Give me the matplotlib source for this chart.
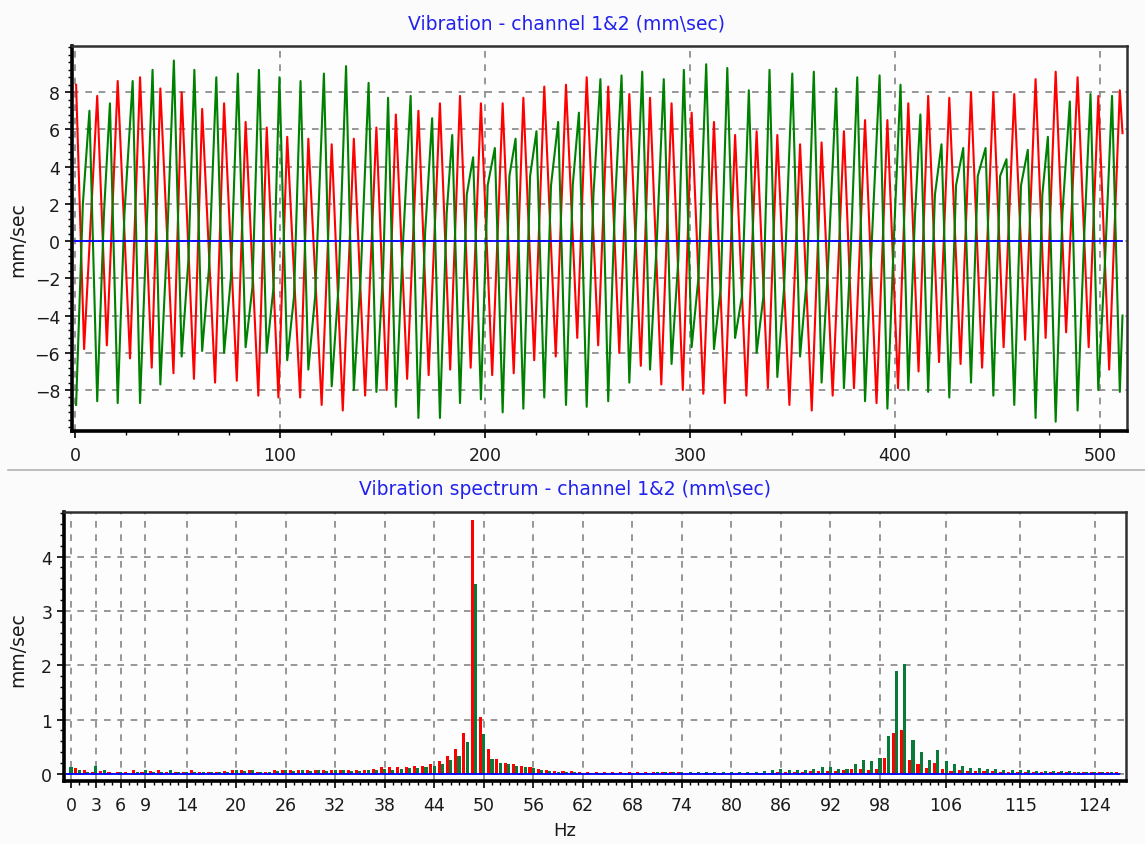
import numpy as np
import matplotlib
matplotlib.use("Agg")
import matplotlib.pyplot as plt
from matplotlib.ticker import MultipleLocator, FixedLocator
from matplotlib.lines import Line2D

# channel 1 (red) turning points: sample index, mm/sec
red_peak_x = [0.5, 10.8, 20.8, 31.7, 41.6, 52, 62, 72.7, 83.2, 93.5,
              103.5, 113.8, 125.2, 136, 147, 156.5, 167.5, 178, 187.8, 198,
              208.6, 218.7, 228.9, 239.5, 249.6, 260.1, 270.4, 280.5, 291, 300.8,
              311.7, 322, 332.5, 342.6, 353.7, 364.2, 375.1, 385.4, 396.3, 406.5,
              416.2, 426.5, 437.1, 448, 458.2, 468.6, 478.4, 489.1, 499.2, 509.7]
red_peak_y = [8.4, 7.8, 8.6, 8.8, 8.2, 8.0, 7.1, 7.4, 6.4, 6.1,
              5.6, 5.5, 5.2, 5.5, 6.1, 6.8, 7.0, 7.4, 7.8, 7.4,
              7.4, 7.7, 8.3, 8.4, 8.8, 8.3, 7.9, 7.7, 7.4, 6.9,
              6.4, 5.7, 5.9, 5.7, 5.2, 5.3, 5.9, 6.5, 6.5, 7.4,
              7.8, 7.7, 8.0, 8.0, 7.9, 8.7, 9.1, 8.8, 7.8, 8.1]
red_trough_x = [4.4, 15.5, 26.8, 37.4, 48, 58, 68.3, 78.9, 89.4, 99.2,
                109.8, 120.3, 130.6, 141.5, 152, 162, 172.5, 183, 193, 203.5,
                214, 224, 234.5, 245, 255.2, 265.5, 276, 286, 296.5, 306.5,
                317, 327.5, 338, 348.5, 359.4, 369.6, 380, 391, 401.5, 411.5,
                421.5, 432, 442.5, 453, 463.5, 473.5, 483.5, 494.5, 504.5]
red_trough_y = [-5.8, -5.6, -6.3, -6.8, -7.1, -7.4, -7.6, -7.5, -8.3, -8.4,
                -8.4, -8.8, -9.1, -8.3, -8.0, -7.4, -7.2, -6.9, -6.8, -7.2,
                -7.1, -6.4, -6.2, -5.2, -5.6, -6.0, -6.7, -7.7, -8.0, -8.2,
                -8.7, -8.3, -7.9, -8.8, -9.1, -8.3, -7.9, -8.7, -7.9, -7.0,
                -6.5, -6.6, -6.8, -5.7, -5.3, -5.2, -4.9, -5.7, -6.9]
red_tail_x = [511]
red_tail_y = [5.8]

# channel 2 (green) turning points
green_trough_x = [0.5, 10.8, 20.8, 31.7, 41.6, 52, 62, 72.7, 83.2, 93.5,
                  103.5, 113.8, 125.2, 136, 147, 156.5, 167.5, 178, 187.8, 198,
                  208.6, 218.7, 228.9, 239.5, 249.6, 260.1, 270.4, 280.5, 291, 300.8,
                  311.7, 322, 332.5, 342.6, 353.7, 364.2, 375.1, 385.4, 396.3, 406.5,
                  416.2, 426.5, 437.1, 448, 458.2, 468.6, 478.4, 489.1, 499.2, 509.7]
green_trough_y = [-8.8, -8.6, -8.7, -8.7, -7.7, -6.2, -5.9, -6.0, -5.7, -6.0,
                  -6.4, -6.9, -7.8, -8.0, -8.1, -8.9, -9.5, -9.5, -8.7, -8.5,
                  -9.2, -9.0, -8.4, -8.8, -8.9, -8.6, -7.6, -6.9, -6.6, -5.7,
                  -5.8, -5.2, -6.0, -7.3, -6.2, -7.6, -7.9, -8.6, -9.0, -8.0,
                  -8.1, -8.4, -7.6, -8.3, -8.8, -9.5, -9.7, -9.1, -8.0, -8.1]
green_mid_x = [3.8, 14.1, 24.1, 35.0, 44.9, 55.3, 65.3, 76.0, 86.5, 96.8,
               106.8, 117.1, 128.5, 139.3, 150.3, 159.8, 170.8, 181.3, 191.1, 201.3,
               211.9, 222.0, 232.2, 242.8, 252.9, 263.4, 273.7, 283.8, 294.3, 304.1,
               315.0, 325.3, 335.8, 345.9, 357.0, 367.5, 378.4, 388.7, 399.6, 409.8,
               419.5, 429.8, 440.4, 451.3, 461.5, 471.9, 481.7, 492.4, 502.5]
green_mid_y = [2.0, 1.5, 1.5, 1.0, 0.0, -1.0, -1.5, -2.0, -2.5, -2.5,
               -3.0, -3.0, -2.5, -2.0, -1.5, -0.5, 0.5, 1.5, 2.5, 3.0,
               3.5, 3.5, 3.0, 3.0, 2.5, 2.0, 1.0, 0.0, -1.0, -2.0,
               -2.5, -3.0, -3.0, -2.5, -2.0, -1.0, -0.5, 0.0, 0.5, 1.5,
               2.5, 3.0, 3.5, 3.5, 3.0, 2.5, 1.5, 0.5, -1.0]
green_peak_x = [7.0, 17.0, 28.1, 37.8, 48.2, 58.2, 68.9, 79.4, 89.7, 99.7,
                110.0, 121.4, 132.2, 143.2, 152.7, 163.7, 174.2, 184.0, 194.2, 204.8,
                214.9, 225.1, 235.7, 245.8, 256.3, 266.6, 276.7, 287.2, 297.0, 307.9,
                318.2, 328.7, 338.8, 349.9, 360.4, 371.3, 381.6, 392.5, 402.7, 412.4,
                422.7, 433.3, 444.2, 454.4, 464.8, 474.6, 485.3, 495.4, 505.9]
green_peak_y = [7.0, 7.4, 8.6, 9.2, 9.7, 9.2, 8.8, 9.0, 9.2, 8.8,
                8.6, 9.0, 9.4, 8.5, 7.7, 7.8, 6.6, 5.7, 4.5, 5.0,
                5.5, 5.9, 6.4, 6.9, 8.7, 8.9, 9.1, 8.7, 9.2, 9.5,
                9.3, 8.1, 9.2, 9.0, 9.1, 8.2, 8.8, 8.9, 8.4, 6.8,
                5.2, 5.0, 5.0, 4.4, 4.9, 5.6, 7.5, 7.9, 7.8]
green_tail_x = [511]
green_tail_y = [-4.0]

# spectrum, 1 Hz bins 0..127
freq_hz = np.arange(128)
spec_red = [0.01, 0.11, 0.08, 0.04, 0.06, 0.04, 0.04, 0.04, 0.07, 0.03,
            0.06, 0.07, 0.04, 0.04, 0.03, 0.08, 0.04, 0.04, 0.04, 0.05,
            0.07, 0.07, 0.07, 0.03, 0.04, 0.07, 0.07, 0.07, 0.07, 0.07,
            0.08, 0.08, 0.07, 0.08, 0.08, 0.08, 0.08, 0.10, 0.12, 0.12,
            0.12, 0.13, 0.15, 0.15, 0.18, 0.24, 0.33, 0.45, 0.75, 4.68,
            1.04, 0.46, 0.27, 0.20, 0.18, 0.14, 0.12, 0.10, 0.07, 0.06,
            0.06, 0.05, 0.04, 0.04, 0.04, 0.04, 0.04, 0.04, 0.04, 0.04,
            0.04, 0.03, 0.03, 0.03, 0.04, 0.02, 0.02, 0.02, 0.02, 0.02,
            0.02, 0.02, 0.02, 0.02, 0.02, 0.02, 0.03, 0.03, 0.04, 0.04,
            0.05, 0.05, 0.06, 0.05, 0.07, 0.10, 0.10, 0.07, 0.10, 0.30,
            0.75, 0.81, 0.26, 0.18, 0.11, 0.21, 0.10, 0.06, 0.07, 0.05,
            0.06, 0.05, 0.05, 0.03, 0.04, 0.04, 0.04, 0.04, 0.04, 0.03,
            0.03, 0.03, 0.03, 0.04, 0.04, 0.04, 0.04, 0.03]
spec_green = [0.12, 0.08, 0.04, 0.15, 0.08, 0.02, 0.03, 0.02, 0.03, 0.07,
              0.04, 0.04, 0.07, 0.03, 0.04, 0.03, 0.03, 0.03, 0.03, 0.04,
              0.08, 0.06, 0.07, 0.03, 0.03, 0.06, 0.07, 0.06, 0.07, 0.06,
              0.07, 0.06, 0.07, 0.07, 0.06, 0.06, 0.07, 0.08, 0.09, 0.08,
              0.09, 0.11, 0.11, 0.13, 0.15, 0.18, 0.25, 0.33, 0.59, 3.50,
              0.74, 0.28, 0.21, 0.18, 0.15, 0.12, 0.11, 0.07, 0.05, 0.04,
              0.03, 0.03, 0.02, 0.02, 0.02, 0.02, 0.02, 0.02, 0.02, 0.02,
              0.02, 0.03, 0.03, 0.03, 0.03, 0.03, 0.03, 0.03, 0.03, 0.03,
              0.03, 0.04, 0.04, 0.04, 0.05, 0.07, 0.09, 0.07, 0.07, 0.07,
              0.09, 0.12, 0.12, 0.10, 0.10, 0.18, 0.26, 0.23, 0.30, 0.70,
              1.89, 2.02, 0.63, 0.41, 0.26, 0.44, 0.23, 0.18, 0.14, 0.11,
              0.11, 0.10, 0.09, 0.07, 0.07, 0.08, 0.07, 0.06, 0.06, 0.06,
              0.06, 0.05, 0.04, 0.03, 0.03, 0.03, 0.03, 0.02]
hz_ticks = [0, 3, 6, 9, 14, 20, 26, 32, 38, 44, 50, 56, 62, 68, 74, 80, 86,
            92, 98, 106, 115, 124]
wave_yticks = [-8, -6, -4, -2, 0, 2, 4, 6, 8]
spec_yticks = [0, 1, 2, 3, 4]

RED = '#ff0000'
GREEN = '#008000'
BAR_GREEN = '#0a7a3a'
BLUE = '#0000ff'
GRID = '#858585'
TXT = '#1a1a1a'

plt.rcParams['font.family'] = ['DejaVu Sans']

fig = plt.figure(figsize=(11.45, 8.45), dpi=100)
fig.patch.set_facecolor('#fafbfa')
W, H = 1145.0, 845.0


def style_axes(ax):
    ax.set_facecolor('#fcfdfc')
    ax.set_axisbelow(True)
    for s in ['left', 'bottom']:
        ax.spines[s].set_linewidth(2.6)
        ax.spines[s].set_color('black')
    for s in ['top', 'right']:
        ax.spines[s].set_linewidth(1.8)
        ax.spines[s].set_color('#303030')
    ax.tick_params(which='major', direction='out', length=5, width=1.2,
                   colors='black', labelsize=12.5, labelcolor=TXT)
    ax.tick_params(which='minor', direction='out', length=3, width=1.0,
                   colors='black')
    ax.tick_params(top=False, right=False)
    ax.grid(True, which='major', color=GRID, linestyle=(0, (4, 4)),
            linewidth=1.2)


# --- waveform ---
ax1 = fig.add_axes([72 / W, 1 - 432 / H, 1055 / W, 385 / H])
style_axes(ax1)

red_pts = sorted(zip(red_peak_x + red_trough_x + red_tail_x,
                     red_peak_y + red_trough_y + red_tail_y))
green_pts = sorted(zip(green_trough_x + green_mid_x + green_peak_x + green_tail_x,
                       green_trough_y + green_mid_y + green_peak_y + green_tail_y))
rx, ry = zip(*red_pts)
gx, gy = zip(*green_pts)
ax1.plot(rx, ry, color=RED, lw=1.5, zorder=3)
ax1.plot(gx, gy, color=GREEN, lw=1.5, zorder=4)
ax1.plot([0, 511], [0, 0], color=BLUE, lw=1.3, zorder=5)

ax1.set_xlim(-1.5, 513.2)
ax1.set_ylim(-10.2, 10.48)
ax1.xaxis.set_major_locator(MultipleLocator(100))
ax1.xaxis.set_minor_locator(MultipleLocator(25))
ax1.yaxis.set_major_locator(FixedLocator(wave_yticks))
ax1.yaxis.set_minor_locator(MultipleLocator(0.4))
ax1.tick_params(axis='x', pad=6)

fig.text(566 / W, 1 - 24 / H, 'Vibration - channel 1&2 (mm\\sec)',
         ha='center', va='center', color='#2222ee', fontsize=13.5)
fig.text(18 / W, 1 - 240 / H, 'mm/sec', rotation=90, ha='center',
         va='center', color=TXT, fontsize=13.5)

# separator between panels
fig.add_artist(Line2D([8 / W, 1.0], [1 - 471 / H] * 2, color='#b4b4b4', lw=1.2))

# --- spectrum ---
ax2 = fig.add_axes([64 / W, 1 - 782 / H, 1062 / W, 269 / H])
style_axes(ax2)
ax2.bar(freq_hz - 0.4, spec_red, width=0.37, color=RED, zorder=3, linewidth=0)
ax2.bar(freq_hz, spec_green, width=0.37, color=BAR_GREEN, zorder=3, linewidth=0)
ax2.plot([-0.5, 127], [0, 0], color=BLUE, lw=1.3, zorder=5)

ax2.set_xlim(-0.85, 127.8)
ax2.set_ylim(-0.13, 4.82)
ax2.xaxis.set_major_locator(FixedLocator(hz_ticks))
ax2.xaxis.set_minor_locator(MultipleLocator(1))
ax2.yaxis.set_major_locator(FixedLocator(spec_yticks))
ax2.yaxis.set_minor_locator(MultipleLocator(0.2))
ax2.tick_params(axis='x', pad=6)

fig.text(565 / W, 1 - 490 / H, 'Vibration spectrum - channel 1&2 (mm\\sec)',
         ha='center', va='center', color='#2222ee', fontsize=13.5)
fig.text(18 / W, 1 - 650 / H, 'mm/sec', rotation=90, ha='center',
         va='center', color=TXT, fontsize=13.5)
fig.text(565 / W, 1 - 831 / H, 'Hz', ha='center', va='center',
         color=TXT, fontsize=13)

fig.savefig('out.png', dpi=100, facecolor=fig.get_facecolor())
